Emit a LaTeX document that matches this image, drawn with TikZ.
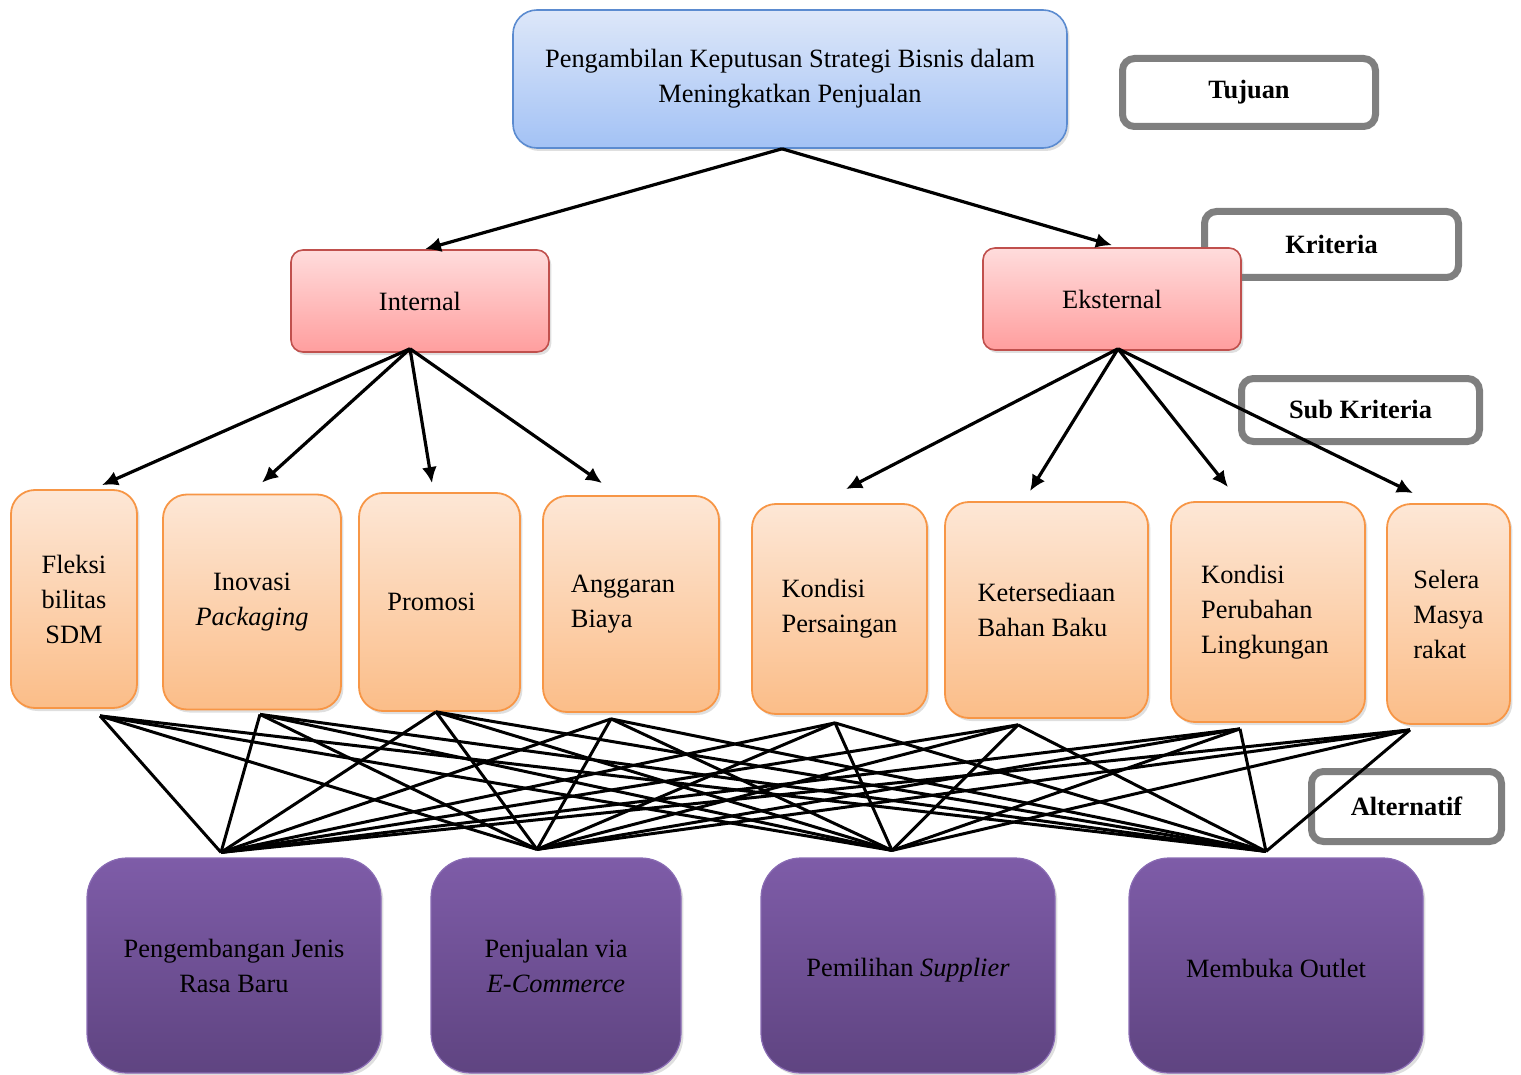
\documentclass[tikz,border=0pt]{standalone}
\usepackage{fontspec}
\setmainfont{Liberation Serif}
\usetikzlibrary{arrows.meta,shadows}
\definecolor{bluetop}{HTML}{DDE7F9}
\definecolor{bluebot}{HTML}{A3C2F5}
\definecolor{blueline}{HTML}{5B8BD0}
\definecolor{redtop}{HTML}{FFDCDC}
\definecolor{redbot}{HTML}{FF9E9E}
\definecolor{redline}{HTML}{C0504D}
\definecolor{ortop}{HTML}{FDE7D6}
\definecolor{orbot}{HTML}{FBBD88}
\definecolor{orline}{HTML}{F79646}
\definecolor{pptop}{HTML}{7E5CA8}
\definecolor{ppbot}{HTML}{5F4481}
\definecolor{ppline}{HTML}{8A6CB4}
\definecolor{legline}{HTML}{7F7F7F}
\tikzset{
  base/.style={font=\fontsize{13.2pt}{17.5pt}\selectfont, inner sep=0pt,
     drop shadow={opacity=0.25,shadow xshift=1.2pt,shadow yshift=-1.5pt}},
  goalbox/.style={base, draw=blueline, line width=0.8pt, top color=bluetop, bottom color=bluebot, rounded corners=12pt, align=center},
  critbox/.style={base, draw=redline, line width=0.8pt, top color=redtop, bottom color=redbot, rounded corners=6pt, align=center},
  subbox/.style={base, draw=orline, line width=0.9pt, top color=ortop, bottom color=orbot, rounded corners=12pt},
  altbox/.style={base, draw=ppline, line width=0.6pt, top color=pptop, bottom color=ppbot, rounded corners=20pt, align=center},
  legbox/.style={draw=legline, line width=3.5pt, fill=white, rounded corners=6pt, inner sep=0pt,
     font=\fontsize{13.2pt}{17.5pt}\selectfont\bfseries},
  arr/.style={line width=1.6pt, -{Latex[length=8pt,width=7.5pt]}},
  mesh/.style={line width=1.5pt, line join=round}
}
\begin{document}
\begin{tikzpicture}[x=0.5pt,y=-0.5pt]
\useasboundingbox (0,0) rectangle (1521,1075);

% legend boxes
\node[legbox, minimum width=126.5pt, minimum height=34pt] (tuj) at (1249,92.5) {Tujuan};
\node[legbox, minimum width=127pt, minimum height=33pt] (kri) at (1331.5,244.5) {Kriteria};
\node[legbox, minimum width=119pt, minimum height=31.5pt] (subk) at (1360.5,410) {Sub Kriteria};
\node[legbox, minimum width=95pt, minimum height=35pt] (alt) at (1406.5,806.5) {Alternatif};

% goal
\node[goalbox, minimum width=277pt, minimum height=69pt] (goal) at (790,79)
  {Pengambilan Keputusan Strategi Bisnis dalam\\Meningkatkan Penjualan};

% criteria
\node[critbox, minimum width=129pt, minimum height=51pt] (int) at (420,301) {Internal};
\node[critbox, minimum width=129pt, minimum height=51pt] (ext) at (1112,299) {Eksternal};

% sub criteria
\node[subbox, align=center, minimum width=63pt, minimum height=109pt] (s1) at (74,599) {Fleksi\\bilitas\\SDM};
\node[subbox, align=center, minimum width=89pt, minimum height=107.5pt] (s2) at (252,602) {Inovasi\\\textit{Packaging}};
\node[subbox, align=center, minimum width=80.5pt, minimum height=109pt] (s3) at (439.5,602) {\hspace*{-8pt}Promosi};
\node[subbox, align=left, minimum width=88pt, minimum height=108pt] (s4) at (631,604) {Anggaran\hspace*{8pt}\\Biaya};
\node[subbox, align=left, minimum width=87.5pt, minimum height=105pt] (s5) at (839.5,609) {Kondisi\\Persaingan};
\node[subbox, align=left, minimum width=101.5pt, minimum height=108pt] (s6) at (1046.5,610) {Ketersediaan\\Bahan Baku};
\node[subbox, align=left, minimum width=97pt, minimum height=110pt] (s7) at (1268,612) {Kondisi\\Perubahan\\Lingkungan\hspace*{3pt}};
\node[subbox, align=left, minimum width=61.5pt, minimum height=110pt] (s8) at (1448.5,614) {Selera\\Masya\\rakat};

% alternatives
\node[altbox, minimum width=147pt, minimum height=107.5pt] (a1) at (234,965.5) {Pengembangan Jenis\\Rasa Baru};
\node[altbox, minimum width=125pt, minimum height=107.5pt] (a2) at (556,965.5) {Penjualan via\\\textit{E-Commerce}};
\node[altbox, minimum width=147pt, minimum height=107.5pt] (a3) at (908,965.5) {\raisebox{-2.5pt}[\height][\depth]{Pemilihan \textit{Supplier}}};
\node[altbox, minimum width=147pt, minimum height=107.5pt] (a4) at (1276,965.5) {\raisebox{-1.5pt}[\height][\depth]{Membuka Outlet}};

% arrows goal -> criteria
\draw[arr] ([xshift=-4pt]goal.south) -- ([xshift=2.5pt]int.north);
\draw[arr] ([xshift=-4pt]goal.south) -- ([yshift=1pt]ext.north);

% arrows criteria -> sub criteria
\coordinate (io) at ([xshift=-5pt,yshift=2pt]int.south);
\coordinate (eo) at ([xshift=3pt,yshift=1pt]ext.south);
\draw[arr] (io) -- ([xshift=14pt,yshift=2pt]s1.north);
\draw[arr] (io) -- ([xshift=5pt,yshift=5.5pt]s2.north);
\draw[arr] (io) -- ([xshift=-3.75pt,yshift=4.5pt]s3.north);
\draw[arr] (io) -- ([xshift=-14.5pt,yshift=6pt]s4.north);
\draw[arr] (eo) -- ([xshift=3.25pt,yshift=7pt]s5.north);
\draw[arr] (eo) -- ([xshift=-8.25pt,yshift=5pt]s6.north);
\draw[arr] (eo) -- ([xshift=-20pt,yshift=7pt]s7.north);
\draw[arr] (eo) -- ([xshift=-17.75pt,yshift=5pt]s8.north);

% mesh sub criteria -> alternatives
\coordinate (b1) at ([xshift=13pt,yshift=-3.5pt]s1.south);
\coordinate (b2) at ([xshift=4pt,yshift=-2pt]s2.south);
\coordinate (b3) at ([xshift=-1.75pt]s3.south);
\coordinate (b4) at ([xshift=-10pt,yshift=-3pt]s4.south);
\coordinate (b5) at ([xshift=-2.25pt,yshift=-4pt]s5.south);
\coordinate (b6) at ([xshift=-14.25pt,yshift=-3pt]s6.south);
\coordinate (b7) at ([xshift=-14pt,yshift=-3pt]s7.south);
\coordinate (b8) at ([xshift=-19.25pt,yshift=-2.5pt]s8.south);
\coordinate (t1) at ([xshift=-6.5pt,yshift=2.5pt]a1.north);
\coordinate (t2) at ([xshift=-9.5pt,yshift=4pt]a2.north);
\coordinate (t3) at ([xshift=-8pt,yshift=3.5pt]a3.north);
\coordinate (t4) at ([xshift=-5pt,yshift=3pt]a4.north);
\foreach \i in {1,...,8}{
  \foreach \j in {1,...,4}{
    \draw[mesh] (b\i) -- (t\j);
  }
}
\end{tikzpicture}
\end{document}
